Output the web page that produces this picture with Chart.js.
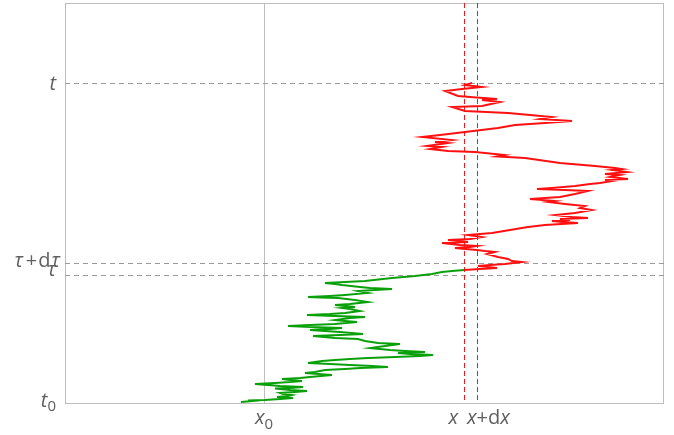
<!DOCTYPE html>
<html>
<head>
<meta charset="utf-8">
<script src="https://cdn.jsdelivr.net/npm/chart.js@4/dist/chart.umd.min.js"></script>
<style>
  html, body { margin: 0; padding: 0; background: #fff; }
  #wrap { width: 674px; height: 435px; }
</style>
</head>
<body>
<div id="wrap"><canvas id="c" width="674" height="435"></canvas></div>
<script>
// Lattice units: position in sites, time in steps
const X0 = 0;      // starting position x0
const XA = 200;    // x
const DX = 13;     // dx
const T0 = 0;      // t0
const TAU = 128;   // tau
const DTAU = 12;   // d tau
const T1 = 320;    // t

// Walk from t0 up to just past tau
const pathEarlyX = [-23, -12, -16, 1, 16, 29, 21, 13, 24, 28,
  19, 16, 31, 43, 26, 11, 26, 39, 16, 4,
  -9, 11, 26, 38, 26, 18, 36, 46, 68, 54,
  41, 51, 61, 81, 96, 124, 108, 86, 66, 44,
  58, 71, 86, 104, 131, 156, 169, 146, 134, 161,
  141, 126, 106, 121, 136, 114, 101, 94, 71, 49,
  76, 99, 76, 61, 46, 66, 78, 46, 24, 46,
  71, 93, 81, 71, 86, 101, 71, 43, 66, 81,
  96, 86, 78, 91, 71, 86, 104, 91, 74, 56,
  44, 66, 81, 104, 94, 111, 128, 106, 96, 78,
  71, 61, 81, 101, 128, 151, 168, 178, 188, 200];
const pathEarlyT = [1, 2, 2.5, 3, 4, 5, 5.5, 6, 7, 8,
  9, 10, 11, 12, 13, 14.5, 15, 16, 17, 18,
  19, 20, 21, 22, 23, 24, 25, 26, 28, 29,
  30, 31, 33, 34, 35, 36, 37, 38, 39, 40,
  42, 43, 44, 45, 46, 47, 48, 49, 50, 51,
  52, 53, 55, 57, 59, 60, 62, 64, 65, 67,
  68, 69, 71, 72, 73, 74, 75, 76, 77, 78,
  79, 81, 82, 83, 85, 86, 87, 88, 89, 90,
  92, 94, 95, 96, 98, 99, 101, 103, 105, 105.5,
  106, 107, 108, 110, 112, 113, 114, 115, 116, 118,
  119, 120, 121, 122, 125, 127, 129, 131, 132, 133];

// Walk from there up to t
const pathLateX = [200, 216, 233, 224, 214, 226, 241, 258, 248, 244,
  234, 223, 231, 221, 213, 201, 191, 206, 213, 196,
  178, 204, 184, 206, 218, 204, 216, 228, 246, 264,
  281, 314, 298, 288, 306, 296, 324, 308, 291, 311,
  328, 316, 321, 301, 284, 291, 266, 281, 296, 311,
  324, 301, 273, 288, 311, 326, 336, 348, 341, 364,
  346, 356, 341, 363, 348, 358, 351, 331, 296, 261,
  243, 233, 241, 211, 184, 166, 178, 163, 184, 171,
  188, 158, 176, 201, 234, 251, 281, 308, 276, 288,
  266, 244, 201, 188, 218, 236, 218, 233, 206, 194,
  181, 198, 218, 201, 208];
const pathLateT = [133, 134, 135, 136, 137, 138, 139, 141, 142, 144,
  146, 149, 151, 152, 153, 154, 155, 156, 157, 158,
  160, 161, 163, 164, 166, 168, 169, 170, 173, 176,
  178, 180, 181, 182, 183, 184, 185, 186, 188, 190,
  193, 195, 197, 199, 201, 202, 204, 205, 206, 209,
  212, 213, 214, 215, 217, 219, 220, 222, 223, 224,
  226, 228, 229, 231, 233, 234, 235, 237, 240, 245,
  246, 246.5, 248, 251, 252, 254, 256, 257, 260, 261,
  263, 266, 268, 271, 275, 278, 280, 282, 284, 286,
  288, 290, 292, 296, 297, 301, 303, 304, 306, 307,
  312, 314, 316, 318, 320];

const toPoints = (xs, ts) => xs.map((x, i) => ({ x: x, y: ts[i] }));

const TEXT = '#606060';
const FONT = '"Open Sans", "DejaVu Sans", sans-serif';

// Draw a label made of runs with separate style (italic / upright, size, shift)
function drawRuns(ctx, runs, x, baseline, align) {
  let total = 0;
  runs.forEach(r => {
    ctx.font = (r.italic ? 'italic ' : '') + r.size + 'px ' + FONT;
    r.w = ctx.measureText(r.text).width;
    total += r.w + (r.gap || 0);
  });
  let cx = align === 'right' ? x - total : (align === 'center' ? x - total / 2 : x);
  ctx.textAlign = 'left';
  ctx.textBaseline = 'alphabetic';
  ctx.fillStyle = TEXT;
  runs.forEach(r => {
    ctx.font = (r.italic ? 'italic ' : '') + r.size + 'px ' + FONT;
    ctx.fillText(r.text, cx, baseline + (r.dy || 0));
    cx += r.w + (r.gap || 0);
  });
}

const guides = {
  id: 'guides',
  beforeDatasetsDraw(chart) {
    const { ctx, chartArea: a, scales: { x, y } } = chart;
    ctx.save();
    // frame
    ctx.strokeStyle = '#bdbdbd';
    ctx.lineWidth = 1;
    ctx.strokeRect(a.left + 0.5, a.top + 0.5, a.right - a.left - 1, a.bottom - a.top);
    // x0 vertical
    const px0 = Math.round(x.getPixelForValue(X0)) + 0.5;
    ctx.beginPath();
    ctx.moveTo(px0, a.top); ctx.lineTo(px0, a.bottom);
    ctx.stroke();
    // time levels
    ctx.strokeStyle = '#9a9a9a';
    ctx.setLineDash([5, 4]);
    [T1, TAU + DTAU, TAU].forEach(v => {
      const py = Math.round(y.getPixelForValue(v)) + 0.5;
      ctx.beginPath();
      ctx.moveTo(a.left, py); ctx.lineTo(a.right, py);
      ctx.stroke();
    });
    // target interval [x, x+dx]
    ctx.strokeStyle = '#ee1c1c';
    ctx.setLineDash([5, 3]);
    [XA, XA + DX].forEach(v => {
      const px = Math.round(x.getPixelForValue(v)) + 0.5;
      ctx.beginPath();
      ctx.moveTo(px, a.top); ctx.lineTo(px, a.bottom);
      ctx.stroke();
    });
    ctx.restore();
  },
  afterDraw(chart) {
    const { ctx, chartArea: a, scales: { x, y } } = chart;
    ctx.save();
    const lx = a.left - 9;
    drawRuns(ctx, [{ text: 't', italic: true, size: 20 }], lx, y.getPixelForValue(T1) + 7, 'right');
    drawRuns(ctx, [
      { text: 'τ', italic: true, size: 20, gap: 3 },
      { text: '+', size: 20, gap: 1 },
      { text: 'd', size: 20, gap: 1 },
      { text: 'τ', italic: true, size: 20 }
    ], lx + 4, y.getPixelForValue(TAU + DTAU) + 4, 'right');
    drawRuns(ctx, [{ text: 'τ', italic: true, size: 20 }], lx, y.getPixelForValue(TAU) + 1, 'right');
    drawRuns(ctx, [{ text: 't', italic: true, size: 20 }, { text: '0', size: 15, dy: 4 }], lx, y.getPixelForValue(T0) + 4, 'right');

    const by = a.bottom + 21;
    drawRuns(ctx, [{ text: 'x', italic: true, size: 20 }, { text: '0', size: 15, dy: 5 }], x.getPixelForValue(X0), by, 'center');
    drawRuns(ctx, [{ text: 'x', italic: true, size: 20 }], x.getPixelForValue(XA) - 6, by, 'right');
    drawRuns(ctx, [{ text: 'x', italic: true, size: 20 }, { text: '+d', size: 20 }, { text: 'x', italic: true, size: 20 }],
      x.getPixelForValue(XA + DX) - 10, by, 'left');
    ctx.restore();
  }
};

new Chart(document.getElementById('c'), {
  type: 'scatter',
  data: {
    datasets: [
      { data: toPoints(pathEarlyX, pathEarlyT), showLine: true, borderColor: '#0aa00a', borderWidth: 1.9, pointRadius: 0, tension: 0 },
      { data: toPoints(pathLateX, pathLateT), showLine: true, borderColor: '#ff1010', borderWidth: 1.9, pointRadius: 0, tension: 0 }
    ]
  },
  options: {
    responsive: false,
    animation: false,
    devicePixelRatio: 1,
    layout: { padding: { left: 65, right: 10, top: 3, bottom: 32 } },
    plugins: { legend: { display: false }, tooltip: { enabled: false } },
    scales: {
      x: { type: 'linear', min: -199, max: 400, display: false },
      y: { type: 'linear', min: 0, max: 400, display: false }
    }
  },
  plugins: [guides]
});
</script>
</body>
</html>
